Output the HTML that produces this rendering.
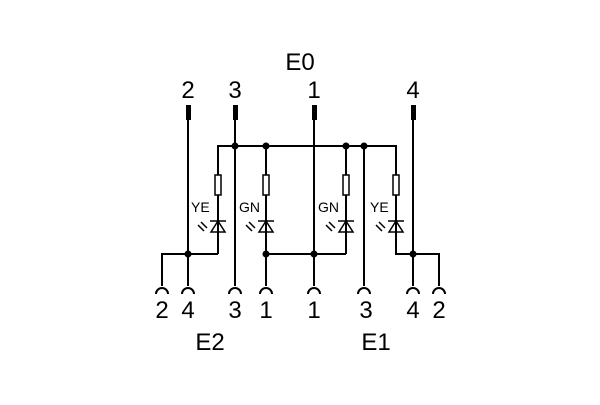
<!DOCTYPE html>
<html><head><style>body{margin:0;background:#fff}</style></head><body>
<svg width="600" height="400" xmlns="http://www.w3.org/2000/svg" font-family="Liberation Sans, DejaVu Sans, sans-serif">
<g stroke="#000" stroke-width="2" fill="none">
<line x1="188" y1="105" x2="188" y2="286"/>
<line x1="235" y1="105" x2="235" y2="286"/>
<line x1="314" y1="105" x2="314" y2="286"/>
<line x1="413" y1="105" x2="413" y2="286"/>
<line x1="364" y1="146" x2="364" y2="286"/>
<line x1="266" y1="146" x2="266" y2="286"/>
<polyline points="218,254 218,146 396,146 396,254 439,254 439,286"/>
<polyline points="162,286 162,254 218,254"/>
<line x1="346" y1="146" x2="346" y2="254"/>
<line x1="266" y1="254" x2="346" y2="254"/>
<path d="M156,294 a6,6 0 0 1 12,0"/>
<path d="M182,294 a6,6 0 0 1 12,0"/>
<path d="M229,294 a6,6 0 0 1 12,0"/>
<path d="M260,294 a6,6 0 0 1 12,0"/>
<path d="M308,294 a6,6 0 0 1 12,0"/>
<path d="M358,294 a6,6 0 0 1 12,0"/>
<path d="M407,294 a6,6 0 0 1 12,0"/>
<path d="M433,294 a6,6 0 0 1 12,0"/>
</g>
<g fill="#000">
<rect x="186" y="105" width="5" height="15"/>
<rect x="233" y="105" width="5" height="15"/>
<rect x="312" y="105" width="5" height="15"/>
<rect x="411" y="105" width="5" height="15"/>
<circle cx="235" cy="146" r="3.5"/><circle cx="266" cy="146" r="3.5"/>
<circle cx="346" cy="146" r="3.5"/><circle cx="364" cy="146" r="3.5"/>
<circle cx="188" cy="254" r="3.5"/><circle cx="266" cy="254" r="3.5"/>
<circle cx="314" cy="254" r="3.5"/><circle cx="413" cy="254" r="3.5"/>
</g>
<g stroke="#000" stroke-width="1.5" fill="#fff">
<rect x="215" y="175" width="6" height="20"/>
<rect x="263" y="175" width="6" height="20"/>
<rect x="343" y="175" width="6" height="20"/>
<rect x="393" y="175" width="6" height="20"/>
</g>
<g stroke="#000" stroke-width="1.5" fill="none">
<path d="M210,221 h16 M218,221 l-7,11 h14 z"/>
<path d="M258,221 h16 M266,221 l-7,11 h14 z"/>
<path d="M338,221 h16 M346,221 l-7,11 h14 z"/>
<path d="M388,221 h16 M396,221 l-7,11 h14 z"/>
<path d="M201,222 l6,6 M198,225 l6,6"/>
<path d="M249,222 l6,6 M246,225 l6,6"/>
<path d="M329,222 l6,6 M326,225 l6,6"/>
<path d="M379,222 l6,6 M376,225 l6,6"/>
</g>
<g font-size="14" fill="#000">
<text x="191" y="212">YE</text><text x="239" y="212">GN</text>
<text x="318" y="212">GN</text><text x="370" y="212">YE</text>
</g>
<g font-size="24" fill="#000" text-anchor="middle">
<text x="300" y="70">E0</text>
<text x="188" y="98">2</text><text x="235" y="98">3</text>
<text x="314" y="98">1</text><text x="413" y="98">4</text>
<text x="162" y="318">2</text><text x="188" y="318">4</text>
<text x="235" y="318">3</text><text x="266" y="318">1</text>
<text x="314" y="318">1</text><text x="366" y="318">3</text>
<text x="413" y="318">4</text><text x="439" y="318">2</text>
<text x="210" y="350">E2</text><text x="376" y="350">E1</text>
</g>
</svg>
</body></html>
